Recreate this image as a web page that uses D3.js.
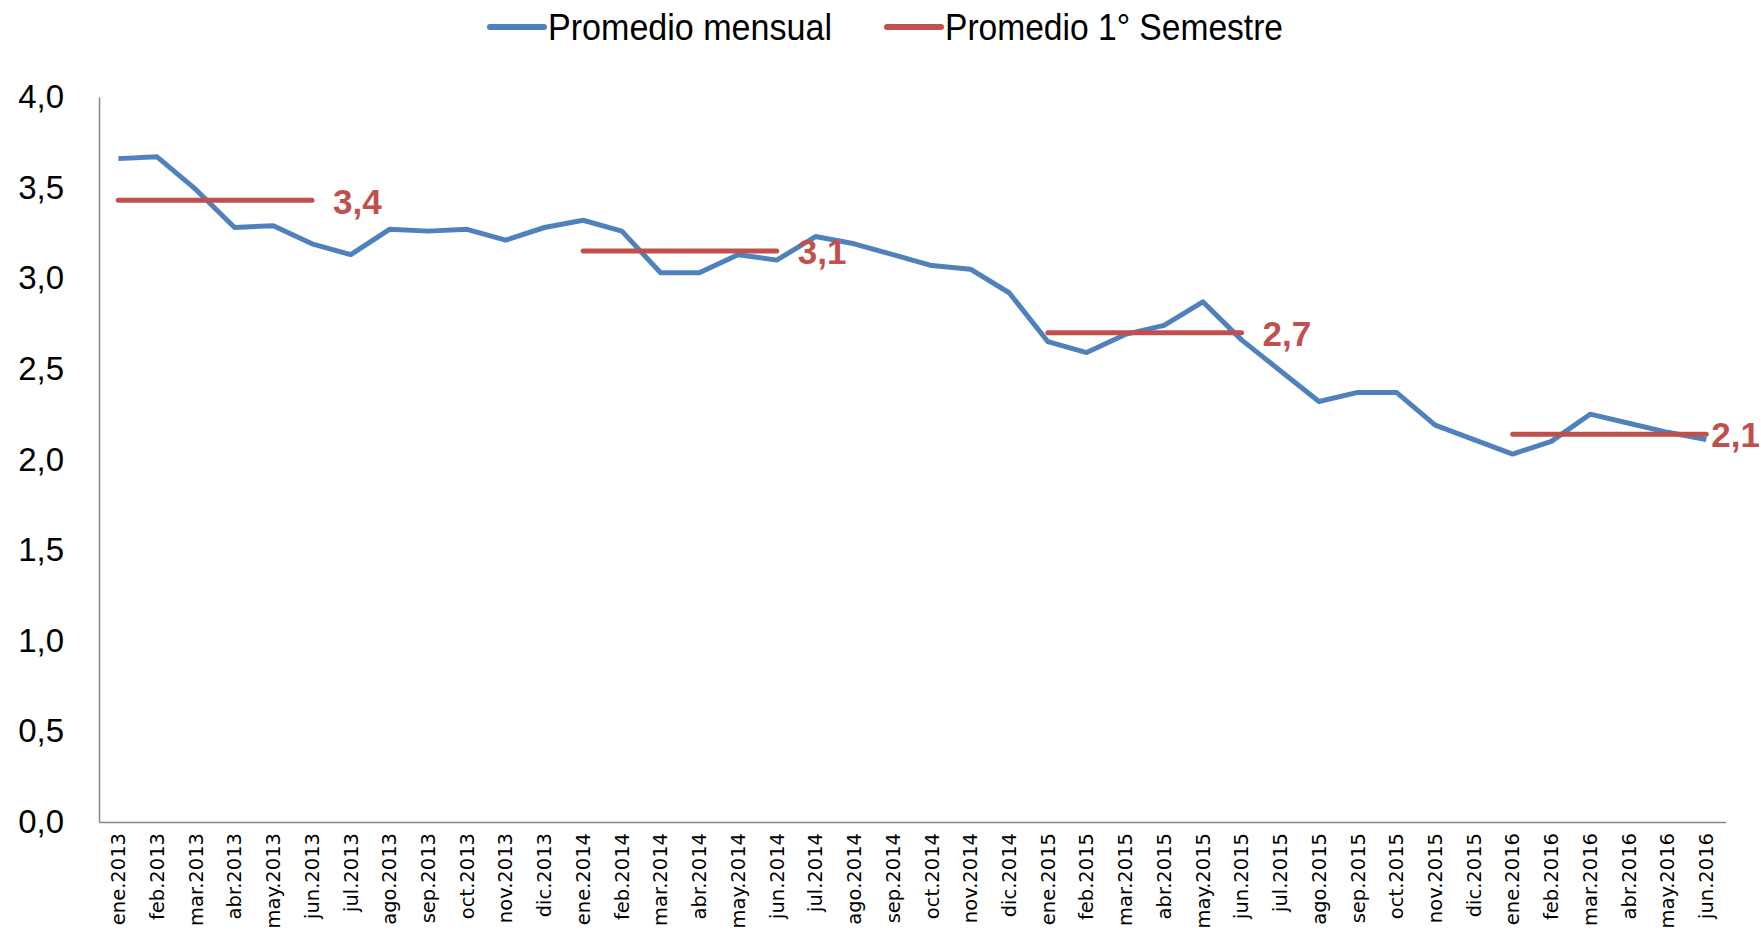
<!DOCTYPE html>
<html>
<head>
<meta charset="utf-8">
<script src="https://cdnjs.cloudflare.com/ajax/libs/d3/7.8.5/d3.min.js"></script>
<style>
  body { margin: 0; background: #fff; }
  svg { display: block; }
</style>
</head>
<body>
<div id="chart"></div>
<script>
// monthly values
var months = ["ene.2013", "feb.2013", "mar.2013", "abr.2013", "may.2013", "jun.2013",
    "jul.2013", "ago.2013", "sep.2013", "oct.2013", "nov.2013", "dic.2013",
    "ene.2014", "feb.2014", "mar.2014", "abr.2014", "may.2014", "jun.2014",
    "jul.2014", "ago.2014", "sep.2014", "oct.2014", "nov.2014", "dic.2014",
    "ene.2015", "feb.2015", "mar.2015", "abr.2015", "may.2015", "jun.2015",
    "jul.2015", "ago.2015", "sep.2015", "oct.2015", "nov.2015", "dic.2015",
    "ene.2016", "feb.2016", "mar.2016", "abr.2016", "may.2016", "jun.2016"];

var monthly = [3.66, 3.67, 3.49, 3.28, 3.29, 3.19,
    3.13, 3.27, 3.26, 3.27, 3.21, 3.28,
    3.32, 3.26, 3.03, 3.03, 3.13, 3.10,
    3.23, 3.19, 3.13, 3.07, 3.05, 2.92,
    2.65, 2.59, 2.69, 2.74, 2.87, 2.66,
    2.49, 2.32, 2.37, 2.37, 2.19, 2.11,
    2.03, 2.10, 2.25, 2.20, 2.15, 2.11];

// first semester averages
var semStart = ["ene.2013", "ene.2014", "ene.2015", "ene.2016"];
var semEnd = ["jun.2013", "jun.2014", "jun.2015", "jun.2016"];
var semValues = [3.43, 3.15, 2.70, 2.14];
var semLabels = ["3,4", "3,1", "2,7", "2,1"];

var yTicks = [0, 0.5, 1, 1.5, 2, 2.5, 3, 3.5, 4];
var legendNames = ["Promedio mensual", "Promedio 1° Semestre"];

var svgWidth = 1761;
var svgHeight = 932;

var margin = {
    top: 97,
    right: 35,
    bottom: 110,
    left: 99
};

var width = svgWidth - margin.left - margin.right;
var height = svgHeight - margin.top - margin.bottom;

var blue = "#4F81BD";
var red = "#C0504D";
var narrow = "'Liberation Sans Narrow', 'Liberation Sans', Arial, sans-serif";

var svg = d3.select("#chart")
    .append("svg")
    .attr("width", svgWidth)
    .attr("height", svgHeight);

var chartGroup = svg.append("g")
    .attr("transform", `translate(${margin.left}, ${margin.top})`);

var xScale = d3.scaleBand()
    .domain(months)
    .range([0, 42 * 38.73]);

var yScale = d3.scaleLinear()
    .domain([0, 4])
    .range([height, 0]);

var xc = d => xScale(d) + xScale.bandwidth() / 2;

// y axis
var leftAxis = d3.axisLeft(yScale)
    .tickValues(yTicks)
    .tickSize(0)
    .tickPadding(35)
    .tickFormat(d => d3.format(".1f")(d).replace(".", ","));

var yAxisG = chartGroup.append("g").call(leftAxis);
yAxisG.select(".domain").attr("stroke", "#868686").attr("stroke-width", 1.5);
yAxisG.selectAll("text")
    .attr("font-family", narrow)
    .attr("font-size", "33px")
    .attr("fill", "#000");

// x axis
var bottomAxis = d3.axisBottom(xScale).tickSize(0).tickPadding(11);
var xAxisG = chartGroup.append("g")
    .attr("transform", `translate(0, ${height})`)
    .call(bottomAxis);
xAxisG.select(".domain").attr("stroke", "#868686").attr("stroke-width", 1.5);
xAxisG.selectAll("text")
    .attr("font-family", "'DejaVu Sans', Verdana, sans-serif")
    .attr("font-size", "19.5px")
    .attr("fill", "#000")
    .attr("text-anchor", "end")
    .attr("transform", "rotate(-90)")
    .attr("x", -11)
    .attr("y", 0)
    .attr("dy", "0.35em");

// monthly line
var line = d3.line()
    .x((d, i) => xc(months[i]))
    .y(d => yScale(d));

chartGroup.append("path")
    .datum(monthly)
    .attr("d", line)
    .attr("fill", "none")
    .attr("stroke", blue)
    .attr("stroke-width", 5)
    .attr("stroke-linejoin", "round");

// semester lines
chartGroup.selectAll(".sem")
    .data(semValues)
    .enter()
    .append("line")
    .attr("class", "sem")
    .attr("x1", (d, i) => xc(semStart[i]))
    .attr("x2", (d, i) => xc(semEnd[i]))
    .attr("y1", d => yScale(d))
    .attr("y2", d => yScale(d))
    .attr("stroke", red)
    .attr("stroke-width", 5)
    .attr("stroke-linecap", "round");

var semText = chartGroup.selectAll(".semlabel")
    .data(semValues)
    .enter()
    .append("text")
    .attr("class", "semlabel")
    .text((d, i) => semLabels[i])
    .attr("font-family", narrow)
    .attr("font-weight", "bold")
    .attr("font-size", "35px")
    .attr("fill", red)
    .attr("y", d => yScale(d))
    .attr("dy", "0.38em");

semText.attr("x", function(d, i) {
    var w = this.getComputedTextLength();
    var x = xc(semEnd[i]) + 21;
    return Math.min(x, svgWidth - margin.left - w - 1);
});

// legend
var legend = svg.append("g");
var legendX = [490, 887];
var legendLen = [284, 338];
var legendColors = [blue, red];
legendNames.forEach((name, i) => {
    legend.append("line")
        .attr("x1", legendX[i])
        .attr("x2", legendX[i] + 54)
        .attr("y1", 27)
        .attr("y2", 27)
        .attr("stroke", legendColors[i])
        .attr("stroke-width", 6)
        .attr("stroke-linecap", "round");
    legend.append("text")
        .attr("x", legendX[i] + 58)
        .attr("y", 27)
        .attr("dy", "0.35em")
        .attr("font-family", narrow)
        .attr("font-size", "37px")
        .attr("textLength", legendLen[i])
        .attr("lengthAdjust", "spacingAndGlyphs")
        .attr("fill", "#000")
        .text(name);
});
</script>
</body>
</html>
